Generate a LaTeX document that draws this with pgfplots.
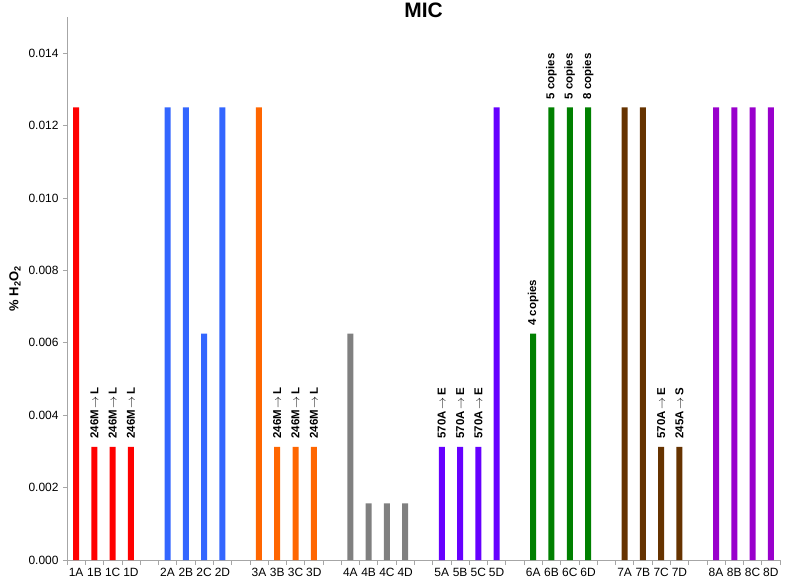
\documentclass[border=0pt]{standalone}
\usepackage{pgfplots}
\pgfplotsset{compat=1.18}
\usepackage{fontspec}
\setmainfont{Liberation Sans}
\definecolor{cA}{HTML}{FF0000}
\definecolor{cB}{HTML}{3366FF}
\definecolor{cC}{HTML}{FF6600}
\definecolor{cD}{HTML}{808080}
\definecolor{cE}{HTML}{6600FF}
\definecolor{cF}{HTML}{008000}
\definecolor{cG}{HTML}{663300}
\definecolor{cH}{HTML}{9900CC}
\definecolor{axgray}{HTML}{A6A6A6}
\newcommand{\ar}{\,$\rightarrow$\,}
\begin{document}
\begin{tikzpicture}
\begin{axis}[
  scale only axis,
  width=713bp, height=543bp,
  xmin=-0.5, xmax=38.5,
  ymin=0, ymax=0.015,
  axis x line*=bottom, axis y line*=left,
  axis line style={axgray, line width=0.8pt},
  ybar, bar width=6bp, bar shift=0pt,
  xtick={0,1,2,3,5,6,7,8,10,11,12,13,15,16,17,18,20,21,22,23,25,26,27,28,30,31,32,33,35,36,37,38},
  xticklabels={1A,1B,1C,1D,2A,2B,2C,2D,3A,3B,3C,3D,4A,4B,4C,4D,5A,5B,5C,5D,6A,6B,6C,6D,7A,7B,7C,7D,8A,8B,8C,8D},
  major x tick style={draw=none},
  minor xtick={-0.5,0.5,...,38.5},
  minor x tick style={axgray, line width=0.6pt},
  minor tick length=5bp,
  xtick pos=bottom, xtick align=outside,
  ytick={0,0.002,...,0.0141},
  ytick pos=left, ytick align=outside,
  major y tick style={axgray, line width=0.6pt},
  major tick length=4bp,
  scaled y ticks=false,
  /pgf/number format/.cd, fixed, fixed zerofill, precision=3, assume math mode=true,
  /pgfplots/.cd,
  tick label style={font=\fontsize{12}{14}\selectfont, black},
  xticklabel style={yshift=-1bp, inner xsep=0pt},
  yticklabel style={xshift=-1bp},
  clip=false,
]
\addplot[fill=cA, draw=none] coordinates {(0,0.0125) (1,0.003125) (2,0.003125) (3,0.003125)};
\addplot[fill=cB, draw=none] coordinates {(5,0.0125) (6,0.0125) (7,0.00625) (8,0.0125)};
\addplot[fill=cC, draw=none] coordinates {(10,0.0125) (11,0.003125) (12,0.003125) (13,0.003125)};
\addplot[fill=cD, draw=none] coordinates {(15,0.00625) (16,0.0015625) (17,0.0015625) (18,0.0015625)};
\addplot[fill=cE, draw=none] coordinates {(20,0.003125) (21,0.003125) (22,0.003125) (23,0.0125)};
\addplot[fill=cF, draw=none] coordinates {(25,0.00625) (26,0.0125) (27,0.0125) (28,0.0125)};
\addplot[fill=cG, draw=none] coordinates {(30,0.0125) (31,0.0125) (32,0.003125) (33,0.003125)};
\addplot[fill=cH, draw=none] coordinates {(35,0.0125) (36,0.0125) (37,0.0125) (38,0.0125)};
\tikzset{lab/.style={rotate=90, anchor=west, inner sep=0pt, font=\bfseries\fontsize{11.5}{13}\selectfont}}
\node[lab] at ([yshift=8bp]axis cs:1,0.003125) {246M\ar L};
\node[lab] at ([yshift=8bp]axis cs:2,0.003125) {246M\ar L};
\node[lab] at ([yshift=8bp]axis cs:3,0.003125) {246M\ar L};
\node[lab] at ([yshift=8bp]axis cs:11,0.003125) {246M\ar L};
\node[lab] at ([yshift=8bp]axis cs:12,0.003125) {246M\ar L};
\node[lab] at ([yshift=8bp]axis cs:13,0.003125) {246M\ar L};
\node[lab] at ([yshift=8bp]axis cs:20,0.003125) {570A\ar E};
\node[lab] at ([yshift=8bp]axis cs:21,0.003125) {570A\ar E};
\node[lab] at ([yshift=8bp]axis cs:22,0.003125) {570A\ar E};
\node[lab] at ([yshift=8bp]axis cs:32,0.003125) {570A\ar E};
\node[lab] at ([yshift=8bp]axis cs:33,0.003125) {245A\ar S};
\node[lab] at ([yshift=8bp]axis cs:25,0.00625) {4 copies};
\node[lab] at ([yshift=8bp]axis cs:26,0.0125) {5 copies};
\node[lab] at ([yshift=8bp]axis cs:27,0.0125) {5 copies};
\node[lab] at ([yshift=8bp]axis cs:28,0.0125) {8 copies};
\node[anchor=north, inner sep=0pt, font=\bfseries\fontsize{21}{24}\selectfont] at ([yshift=14bp]rel axis cs:0.5,1) {MIC};
\node[rotate=90, anchor=center, inner sep=0pt, font=\bfseries\fontsize{13}{15}\selectfont] at ([xshift=-52bp]rel axis cs:0,0.5) {\% H\textsubscript{2}O\textsubscript{2}};
\end{axis}
\pgfresetboundingbox
\path (current axis.south west) ++(-67bp,-21bp) rectangle ++(787bp,581bp);
\end{tikzpicture}
\end{document}
